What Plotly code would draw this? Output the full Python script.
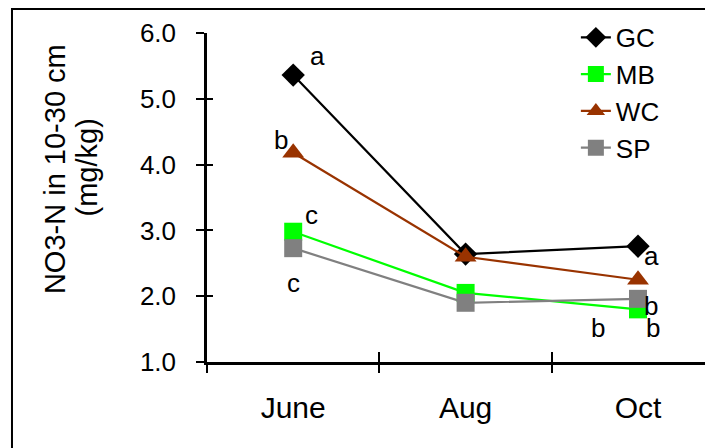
import plotly.graph_objects as go

months = ["June", "Aug", "Oct"]
series_names = ["GC", "MB", "WC", "SP"]
gc_vals = [5.36, 2.64, 2.76]
mb_vals = [2.98, 2.05, 1.80]
wc_vals = [4.18, 2.60, 2.25]
sp_vals = [2.73, 1.90, 1.96]
gc_letters = ["a", "", "a"]
mb_letters = ["c", "", "b"]
wc_letters = ["b", "", "b"]
sp_letters = ["c", "", "b"]
y_ticks = [1.0, 2.0, 3.0, 4.0, 5.0, 6.0]
y_title_lines = ["NO3-N in 10-30 cm", "(mg/kg)"]

FONT = "Liberation Sans, Arial, sans-serif"

styles = {
    "GC": dict(color="#000000", symbol="diamond", size=18),
    "MB": dict(color="#00FF00", symbol="square", size=18),
    "WC": dict(color="#993300", symbol="triangle-up", size=19),
    "SP": dict(color="#808080", symbol="square", size=18),
}
values = {"GC": gc_vals, "MB": mb_vals, "WC": wc_vals, "SP": sp_vals}
letters = {"GC": gc_letters, "MB": mb_letters, "WC": wc_letters, "SP": sp_letters}
shifts = {
    "GC": [(24, 19), None, (13, -10)],
    "MB": [(18, 17), None, (15, -19)],
    "WC": [(-12, 13), None, (-40, -48)],
    "SP": [(0, -35), None, (13, -7)],
}

fig = go.Figure()
for name in series_names:
    st = styles[name]
    fig.add_trace(go.Scatter(
        x=months, y=values[name], name=name, mode="lines+markers",
        legendgroup=name,
        line=dict(color=st["color"], width=2.2),
        marker=dict(symbol=st["symbol"], size=st["size"], color=st["color"],
                    line=dict(width=0)),
    ))

# helper trace so the overlay axes (inner half of crossing ticks) exist
fig.add_trace(go.Scatter(x=months, y=[None] * 3, xaxis="x2", yaxis="y2",
                         showlegend=False, hoverinfo="skip"))

for name in series_names:
    for i, m in enumerate(months):
        t = letters[name][i]
        if not t:
            continue
        dx, dy = shifts[name][i]
        fig.add_annotation(x=m, y=values[name][i], text=t, showarrow=False,
                           xshift=dx, yshift=dy, xanchor="center", yanchor="middle",
                           font=dict(family=FONT, size=26, color="black"))

for line_text, xp, yp in zip(y_title_lines, [-0.300, -0.238], [0.587, 0.590]):
    fig.add_annotation(xref="paper", yref="paper", x=xp, y=yp,
                       text=line_text, textangle=-90,
                       showarrow=False, xanchor="center", yanchor="middle",
                       font=dict(family=FONT, size=29, color="black"))

fig.add_shape(type="rect", xref="paper", yref="paper", x0=-0.3854, x1=1.3,
              y0=-0.6, y1=1.073, line=dict(color="black", width=2),
              fillcolor="rgba(0,0,0,0)")

fig.update_layout(
    width=705, height=440,
    margin=dict(l=199, r=0, t=25, b=86),
    paper_bgcolor="white", plot_bgcolor="white",
    font=dict(family=FONT, size=26, color="black"),
    showlegend=True,
    legend=dict(x=0.729, y=1.058, xanchor="left", yanchor="top",
                bgcolor="rgba(0,0,0,0)", tracegroupgap=0,
                font=dict(family=FONT, size=26)),
    xaxis=dict(type="category", categoryorder="array", categoryarray=months,
               range=[-0.5, 2.435], tickson="boundaries", ticks="outside",
               ticklen=8, tickwidth=2, tickcolor="black",
               showline=True, linewidth=2.5, linecolor="black",
               showgrid=False, zeroline=False, ticklabelstandoff=17,
               tickfont=dict(family=FONT, size=30)),
    xaxis2=dict(type="category", categoryorder="array", categoryarray=months,
                overlaying="x", matches="x", anchor="y2",
                tickson="boundaries", ticks="inside", ticklen=10, tickwidth=2,
                tickcolor="black", showticklabels=False, showline=False,
                showgrid=False, zeroline=False),
    yaxis=dict(range=[1, 6], tickvals=y_ticks, tickformat=".1f",
               ticks="outside", ticklen=8, tickwidth=2, tickcolor="black",
               showline=True, linewidth=2.5, linecolor="black",
               showgrid=False, zeroline=False, ticklabelstandoff=15,
               tickfont=dict(family=FONT, size=26)),
    yaxis2=dict(overlaying="y", matches="y", anchor="x2", tickvals=y_ticks,
                ticks="inside", ticklen=6, tickwidth=2, tickcolor="black",
                showticklabels=False, showline=False, showgrid=False,
                zeroline=False),
)

fig.write_html("out.html")
